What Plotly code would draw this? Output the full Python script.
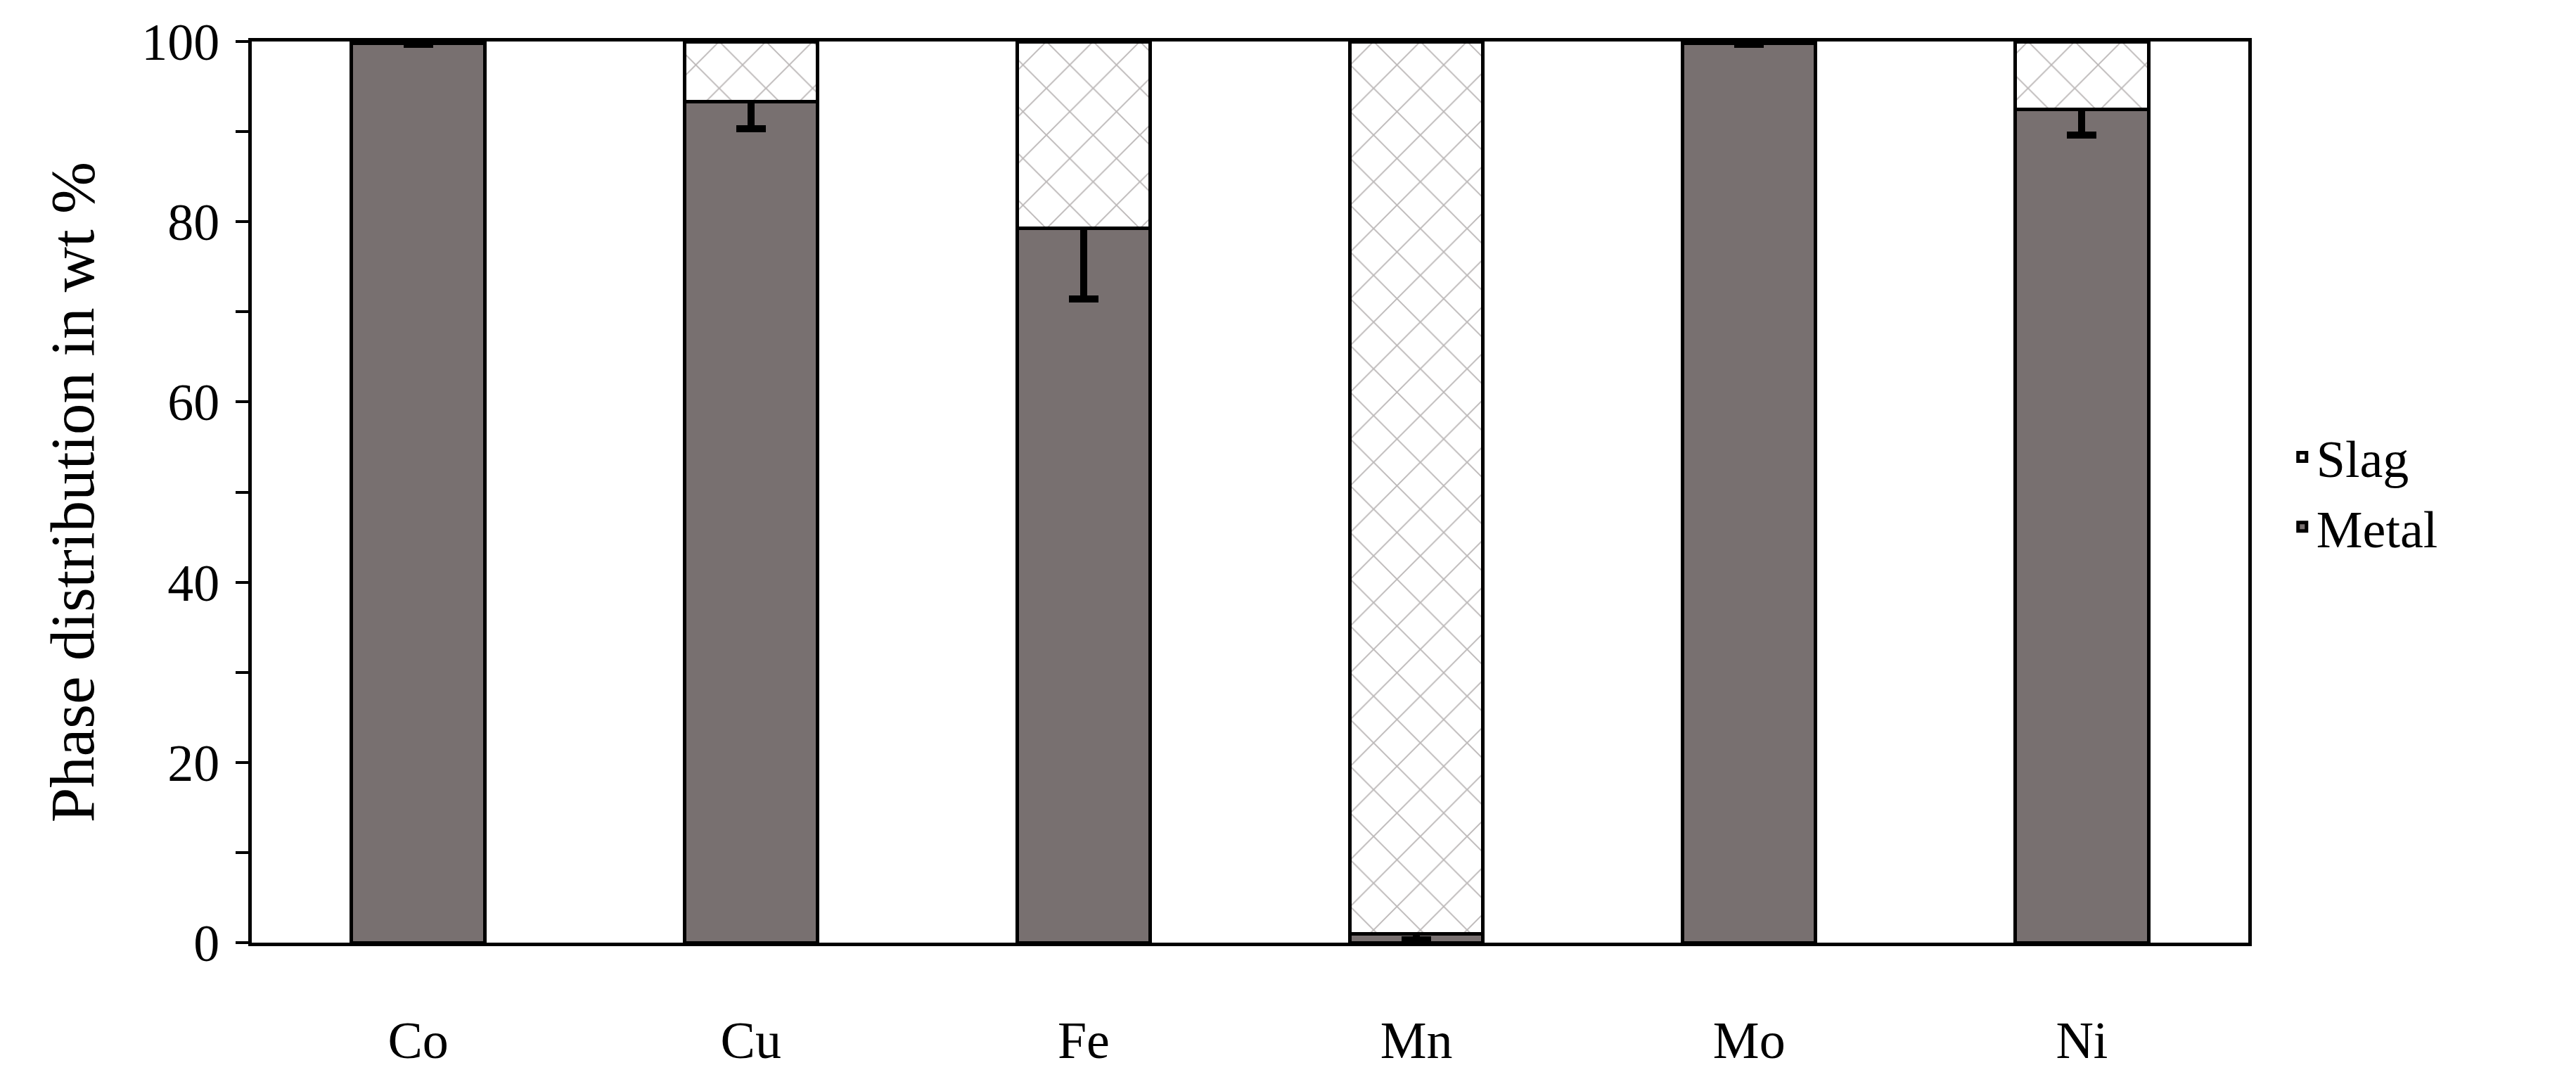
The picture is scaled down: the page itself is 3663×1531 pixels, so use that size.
import plotly.graph_objects as go

elements = ["Co", "Cu", "Fe", "Mn", "Mo", "Ni"]
metal = [99.8, 93.3, 79.3, 1.0, 99.8, 92.5]
metal_err = [0.1, 3.0, 7.9, 0.7, 0.1, 2.9]
slag = [100 - m for m in metal]

FONT = "Liberation Serif"
fig = go.Figure()
fig.add_bar(x=elements, y=metal, name="Metal",
            marker=dict(color="#787070", line=dict(color="black", width=5)),
            error_y=dict(type="data", array=metal_err, color="black", thickness=10, width=21))
fig.add_bar(x=elements, y=slag, name="Slag",
            marker=dict(color="white", line=dict(color="black", width=5),
                        pattern=dict(shape="x", fgcolor="#787070", bgcolor="white", size=47, solidity=0.08)))
fig.update_layout(
    barmode="stack", bargap=0.6,
    width=3663, height=1531,
    margin=dict(l=350, r=474, t=51, b=199),
    plot_bgcolor="white", paper_bgcolor="white",
    font=dict(family=FONT, size=74, color="black"),
    legend=dict(traceorder="reversed", x=1.02, y=0.5, yanchor="middle", xanchor="left",
                font=dict(size=74), itemwidth=30, tracegroupgap=40),
    yaxis=dict(range=[0, 100], tickvals=[0, 20, 40, 60, 80, 100], ticks="outside", ticklen=18,
               tickwidth=4, tickcolor="black", showgrid=False, zeroline=False,
               showline=True, linecolor="black", linewidth=5, mirror=True,
               minor=dict(tickvals=[10, 30, 50, 70, 90], ticks="outside", ticklen=18, tickwidth=4, tickcolor="black"),
               title=dict(text="Phase distribution in wt %", standoff=40), ticklabelstandoff=8),
    xaxis=dict(showline=True, linecolor="black", linewidth=5, mirror=True, ticks="",
               ticklabelstandoff=70),
)
fig.write_html("out.html")
